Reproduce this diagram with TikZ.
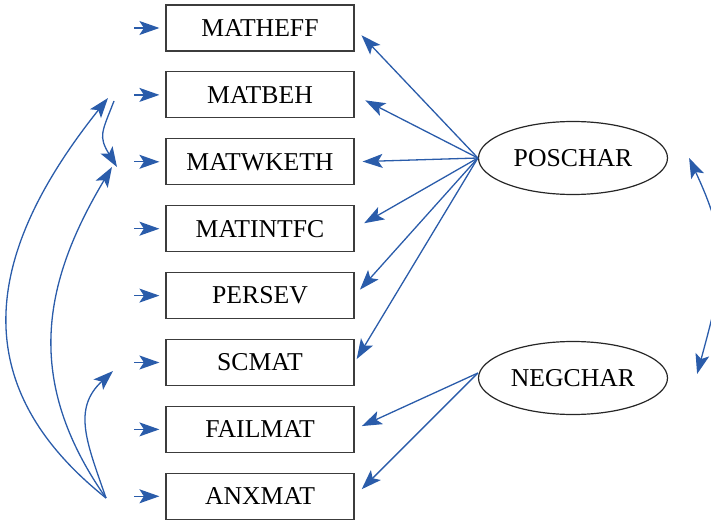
\documentclass[tikz,border=0pt]{standalone}
\usepackage{fontspec}
\setmainfont{Liberation Serif}
\usetikzlibrary{positioning, arrows.meta, shapes.geometric}
\definecolor{pathblue}{RGB}{42,92,170}
\definecolor{boxgray}{RGB}{60,60,60}
\tikzset{
    x=1pt, y=-1pt, % Screen-like units
    pathtip/.tip={Stealth[length=20pt, width=14pt, inset=4.5pt]}, % Arrowheads
    node distance=19.7pt, % Gap between boxes
    every node/.style={font=\fontsize{25.7}{30}\selectfont}, % Text size
    var/.style={draw=boxgray, line width=1.2pt, minimum width=188pt, minimum height=46pt, inner sep=0pt}, % Observed variables
    latent/.style={draw=black!85, line width=1.2pt, ellipse, minimum width=189pt, minimum height=73pt, inner sep=0pt}, % Factors
    load/.style={-pathtip, draw=pathblue, line width=1.3pt}, % Loadings
    cov/.style={pathtip-pathtip, draw=pathblue, line width=1.3pt}, % Factor covariance
    err/.style={-pathtip, draw=pathblue, line width=1.3pt, shorten >=6pt}, % Error terms
}

\begin{document}
\begin{tikzpicture}
    \useasboundingbox (0,0) rectangle (711,521);

    \node[var] (matheff) at (260,28) {MATHEFF};
    \node[var, below=of matheff] (matbeh) {MATBEH};
    \node[var, below=of matbeh] (matwketh) {MATWKETH};
    \node[var, below=of matwketh] (matintfc) {MATINTFC};
    \node[var, below=of matintfc] (persev) {PERSEV};
    \node[var, below=of persev] (scmat) {SCMAT};
    \node[var, below=of scmat] (failmat) {FAILMAT};
    \node[var, below=of failmat] (anxmat) {ANXMAT};

    \node[latent] (poschar) at (573,158) {POSCHAR};
    \node[latent] (negchar) at (573,378) {NEGCHAR};

    % error terms
    \foreach \v in {matheff, matbeh, matwketh, matintfc, persev, scmat, failmat, anxmat} {
        \coordinate[left=31pt of \v] (e\v);
        \draw[err] (e\v) -- (\v);
    }

    \path
        (poschar.west) edge [load, shorten >=10pt] (matheff.east)
                       edge [load, shorten >=12pt] (matbeh.east)
                       edge [load, shorten >=8pt] (matwketh.east)
                       edge [load, shorten >=11pt] (matintfc.east)
                       edge [load, shorten >=8pt] (persev.east)
                       edge [load, shorten >=4pt] (scmat.east)
        ([yshift=5pt]negchar.west) edge [load, shorten >=8pt] (failmat.east)
                                   edge [load, shorten >=10pt] (anxmat.east);

    % error covariances
    \coordinate (cbeh) at (108,98);
    \coordinate (cbeh2) at (114,101);
    \coordinate (cwk) at (112,167);
    \coordinate (cwk2) at (117,167);
    \coordinate (csc) at (113,371);
    \coordinate (canx) at (106,498);
    \draw[load] (canx) .. controls +(-148,-118) and +(-118,148) .. (cbeh);
    \draw[load] (canx) .. controls +(-82,-117) and +(-70,117) .. (cwk);
    \draw[load] (canx) .. controls +(-19,-55) and +(-41,38) .. (csc);
    \draw[load] (cbeh2) .. controls +(-12,31) and +(-19,-31) .. (cwk2);

    % factor covariance
    \coordinate[right=21pt of poschar] (cpos);
    \coordinate[right=29pt of negchar, yshift=4pt] (cneg);
    \draw[cov] (cpos) .. controls +(42,90) and +(27,-100) .. (cneg);
\end{tikzpicture}
\end{document}
